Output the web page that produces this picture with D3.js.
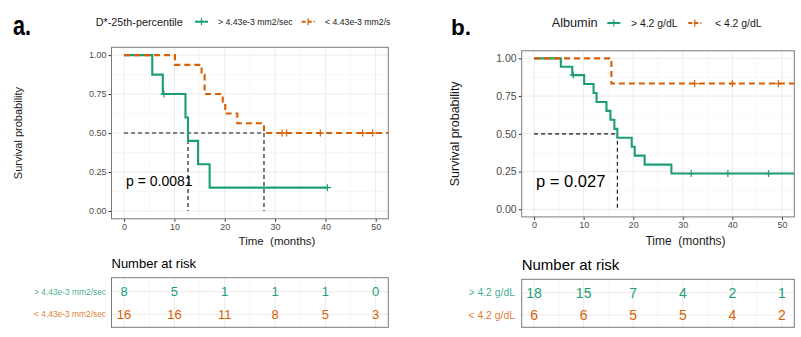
<!DOCTYPE html>
<html><head><meta charset="utf-8">
<script src="https://cdn.jsdelivr.net/npm/d3@7/dist/d3.min.js"></script>
<style>
html,body{margin:0;padding:0;background:#fff;}
svg text{font-family:"Liberation Sans",Arial,Helvetica,sans-serif;}
</style></head><body>
<svg id="chart" width="801" height="337"></svg>
<script>
// ---------------- DATA ----------------
const GREEN = "#1B9E77", ORANGE = "#D95F02";
const xTicks = [0, 10, 20, 30, 40, 50];
const yTicks = [0, 0.25, 0.5, 0.75, 1];
const yTickLabels = ["0.00", "0.25", "0.50", "0.75", "1.00"];

// Panel a: D*-25th-percentile
const aHiTimes = [0, 5.6, 7.7, 12.2, 12.7, 14.7, 17.0];
const aHiSurv  = [1, 0.875, 0.75, 0.6, 0.45, 0.30, 0.15];
const aHiEnd = 40.4;
const aHiCensor = [7.9, 40.4];
const aLoTimes = [0, 10.1, 15.4, 16.0, 19.6, 20.1, 22.5, 27.8];
const aLoSurv  = [1, 0.9375, 0.875, 0.75, 0.6875, 0.625, 0.5625, 0.5];
const aLoEnd = 52.5;
const aLoCensor = [31.4, 32.3, 39.0, 47.4, 49.4];
const aMedians = [12.7, 27.8];
const aRiskHi = [8, 5, 1, 1, 1, 0];
const aRiskLo = [16, 16, 11, 8, 5, 3];
const aLegendTitle = "D*-25th-percentile";
const aLabels = ["> 4.43e-3 mm2/sec", "< 4.43e-3 mm2/s"];
const aRowLabels = ["> 4.43e-3 mm2/sec", "< 4.43e-3 mm2/sec"];
const aP = "p = 0.0081";

// Panel b: Albumin
const bHiTimes = [0, 5.4, 7.7, 10.1, 12.0, 12.6, 14.6, 15.4, 16.2, 16.8, 19.7, 20.3, 22.3, 27.7];
const bHiSurv  = [1, 0.944, 0.889, 0.830, 0.771, 0.711, 0.652, 0.593, 0.533, 0.474, 0.415, 0.356, 0.296, 0.237];
const bHiEnd = 52.5;
const bHiCensor = [7.9, 31.7, 39.1, 47.3];
const bLoTimes = [0, 15.6];
const bLoSurv  = [1, 0.833];
const bLoEnd = 52.5;
const bLoCensor = [32.4, 40.0, 49.3];
const bMedians = [16.8];
const bRiskHi = [18, 15, 7, 4, 2, 1];
const bRiskLo = [6, 6, 5, 5, 4, 2];
const bLegendTitle = "Albumin";
const bLabels = ["> 4.2 g/dL", "< 4.2 g/dL"];
const bRowLabels = ["> 4.2 g/dL", "< 4.2 g/dL"];
const bP = "p = 0.027";

// ---------------- DRAW ----------------
const svg = d3.select("#chart");

function drawPanel(o) {
  const g = svg.append("g");
  const x = d3.scaleLinear().domain([-2.5, 52.5]).range([o.left, o.right]);
  const y = d3.scaleLinear().domain([-0.05, 1.05]).range([o.bottom, o.top]);

  // panel letter
  g.append("text").attr("x", 0).attr("y", 0)
    .attr("transform", `translate(${o.letterX},${o.letterY}) scale(${o.letterSX},1)`)
    .attr("font-size", o.letterSize).attr("font-weight", "bold").attr("fill", "#000").text(o.letter);

  // grid
  const minorX = d3.range(5, 50, 10);
  const minorY = [0.125, 0.375, 0.625, 0.875];
  g.selectAll(".mnx").data(minorX).join("line")
    .attr("x1", d => x(d)).attr("x2", d => x(d)).attr("y1", o.top).attr("y2", o.bottom)
    .attr("stroke", "#F4F4F4").attr("stroke-width", 0.6);
  g.selectAll(".mny").data(minorY).join("line")
    .attr("x1", o.left).attr("x2", o.right).attr("y1", d => y(d)).attr("y2", d => y(d))
    .attr("stroke", "#F4F4F4").attr("stroke-width", 0.6);
  g.selectAll(".mjx").data(xTicks).join("line")
    .attr("x1", d => x(d)).attr("x2", d => x(d)).attr("y1", o.top).attr("y2", o.bottom)
    .attr("stroke", "#EBEBEB").attr("stroke-width", 1);
  g.selectAll(".mjy").data(yTicks).join("line")
    .attr("x1", o.left).attr("x2", o.right).attr("y1", d => y(d)).attr("y2", d => y(d))
    .attr("stroke", "#EBEBEB").attr("stroke-width", 1);

  // axes
  const xa = g.append("g").attr("transform", `translate(0,${o.bottom})`)
    .call(d3.axisBottom(x).tickValues(xTicks).tickSize(3).tickPadding(2));
  xa.select(".domain").remove();
  xa.selectAll("line").attr("stroke", "#333");
  xa.selectAll("text").attr("fill", "#4D4D4D").attr("font-size", o.xTickSize)
    .attr("font-family", "Liberation Sans, Arial, sans-serif");
  const ya = g.append("g").attr("transform", `translate(${o.left},0)`)
    .call(d3.axisLeft(y).tickValues(yTicks).tickFormat((d, i) => yTickLabels[i]).tickSize(3).tickPadding(2));
  ya.select(".domain").remove();
  ya.selectAll("line").attr("stroke", "#333");
  ya.selectAll("text").attr("fill", "#4D4D4D").attr("font-size", o.yTickSize)
    .attr("font-family", "Liberation Sans, Arial, sans-serif");

  // titles
  g.append("text").attr("transform", `translate(${o.yTitleX},${(o.top + o.bottom) / 2}) rotate(-90)`)
    .attr("text-anchor", "middle").attr("dominant-baseline", "central")
    .attr("font-size", o.yTitleSize).attr("fill", "#1a1a1a").text("Survival probability");
  g.append("text").attr("x", o.xTitleX).attr("y", o.xTitleY)
    .attr("text-anchor", "middle").attr("dominant-baseline", "central")
    .attr("font-size", o.xTitleSize).attr("fill", "#1a1a1a").attr("xml:space", "preserve")
    .text("Time  (months)");

  // median lines
  const medG = g.append("g").attr("stroke", "#111").attr("stroke-width", 1.1)
    .attr("stroke-dasharray", "4,3").attr("fill", "none");
  const maxMed = d3.max(o.medians);
  medG.append("line").attr("x1", x(0)).attr("x2", x(maxMed)).attr("y1", y(0.5)).attr("y2", y(0.5));
  o.medians.forEach(m => medG.append("line").attr("x1", x(m)).attr("x2", x(m)).attr("y1", y(0.5)).attr("y2", y(0)));

  // curves
  const line = d3.line().x(d => x(d[0])).y(d => y(d[1])).curve(d3.curveStepAfter);
  function curve(times, surv, end, censor, color, dash) {
    const pts = times.map((t, i) => [t, surv[i]]);
    pts.push([end, surv[surv.length - 1]]);
    g.append("path").attr("d", line(pts)).attr("fill", "none").attr("stroke", color)
      .attr("stroke-width", 2.1).attr("stroke-dasharray", dash);
    const sAt = t => { let s = 1; times.forEach((tt, i) => { if (tt <= t) s = surv[i]; }); return s; };
    censor.forEach(c => {
      const cx = x(c), cy = y(sAt(c));
      g.append("line").attr("x1", cx).attr("x2", cx).attr("y1", cy - 3.5).attr("y2", cy + 3.5)
        .attr("stroke", color).attr("stroke-width", 1.2);
      g.append("line").attr("x1", cx - 3.5).attr("x2", cx + 3.5).attr("y1", cy).attr("y2", cy)
        .attr("stroke", color).attr("stroke-width", 1.2);
    });
  }
  curve(o.hiTimes, o.hiSurv, o.hiEnd, o.hiCensor, GREEN, null);
  curve(o.loTimes, o.loSurv, o.loEnd, o.loCensor, ORANGE, "6,4");

  // panel border
  g.append("rect").attr("x", o.left).attr("y", o.top).attr("width", o.right - o.left)
    .attr("height", o.bottom - o.top).attr("fill", "none").attr("stroke", "#7a7a7a").attr("stroke-width", 1);

  // p value
  g.append("text").attr("x", x(0.4)).attr("y", y(0.19)).attr("dominant-baseline", "central")
    .attr("font-size", o.pSize).attr("fill", "#000").text(o.p);

  // legend
  const lg = g.append("g");
  lg.append("text").attr("x", o.legTitleX).attr("y", o.legY).attr("dominant-baseline", "central")
    .attr("font-size", o.legTitleSize).attr("fill", "#1a1a1a").text(o.legTitle);
  [[GREEN, null], [ORANGE, "4,2"]].forEach((c, i) => {
    const kx = o.keyX[i];
    lg.append("line").attr("x1", kx).attr("x2", kx + 13).attr("y1", o.legY).attr("y2", o.legY)
      .attr("stroke", c[0]).attr("stroke-width", 2).attr("stroke-dasharray", c[1]);
    lg.append("line").attr("x1", kx + 6.5).attr("x2", kx + 6.5).attr("y1", o.legY - 3.5).attr("y2", o.legY + 3.5)
      .attr("stroke", c[0]).attr("stroke-width", 1.2);
    lg.append("text").attr("x", o.labX[i]).attr("y", o.legY).attr("dominant-baseline", "central")
      .attr("font-size", o.legLabSize).attr("fill", "#1a1a1a").text(o.labels[i]);
  });

  // risk table
  g.append("text").attr("x", o.left).attr("y", o.narY).attr("dominant-baseline", "central")
    .attr("font-size", o.narSize).attr("fill", "#000").text("Number at risk");
  const ry = d3.scalePoint().domain([0, 1]).range([o.rowY[0], o.rowY[1]]);
  g.selectAll(".rmx").data(minorX).join("line")
    .attr("x1", d => x(d)).attr("x2", d => x(d)).attr("y1", o.tTop).attr("y2", o.tBottom)
    .attr("stroke", "#F2F2F2").attr("stroke-width", 0.6);
  g.selectAll(".rjx").data(xTicks).join("line")
    .attr("x1", d => x(d)).attr("x2", d => x(d)).attr("y1", o.tTop).attr("y2", o.tBottom)
    .attr("stroke", "#EBEBEB").attr("stroke-width", 1);
  [0, 1].forEach(r => g.append("line").attr("x1", o.left).attr("x2", o.right)
    .attr("y1", ry(r)).attr("y2", ry(r)).attr("stroke", "#EBEBEB").attr("stroke-width", 1));
  g.append("rect").attr("x", o.left).attr("y", o.tTop).attr("width", o.right - o.left)
    .attr("height", o.tBottom - o.tTop).attr("fill", "none").attr("stroke", "#7a7a7a").attr("stroke-width", 1);
  [[o.riskHi, GREEN], [o.riskLo, ORANGE]].forEach((row, r) => {
    g.selectAll(null).data(row[0]).join("text")
      .attr("x", (d, i) => x(xTicks[i])).attr("y", ry(r)).attr("text-anchor", "middle")
      .attr("dominant-baseline", "central").attr("font-size", o.digitSize).attr("fill", row[1])
      .text(d => d);
    g.append("text").attr("x", o.rowLabX).attr("y", ry(r)).attr("text-anchor", "end")
      .attr("dominant-baseline", "central").attr("font-size", o.rowLabSize)
      .attr("fill", row[1]).attr("fill-opacity", 0.85).text(o.rowLabels[r]);
  });
}

drawPanel({
  letter: "a.", letterX: 13, letterY: 35, letterSize: 27, letterSX: 0.8,
  left: 111.5, right: 388.3, top: 47.3, bottom: 218.8,
  xTickSize: 9, yTickSize: 9, yTitleX: 18, yTitleSize: 11,
  xTitleX: 277, xTitleY: 241, xTitleSize: 11.5,
  medians: aMedians,
  hiTimes: aHiTimes, hiSurv: aHiSurv, hiEnd: aHiEnd, hiCensor: aHiCensor,
  loTimes: aLoTimes, loSurv: aLoSurv, loEnd: aLoEnd, loCensor: aLoCensor,
  p: aP, pSize: 14,
  legTitle: aLegendTitle, legTitleX: 95.7, legY: 21.7, legTitleSize: 10.8,
  keyX: [195, 301.7], labX: [218, 325], labels: aLabels, legLabSize: 8.7,
  narY: 263.3, narSize: 13, tTop: 277.7, tBottom: 327.3, rowY: [291.7, 314.3],
  riskHi: aRiskHi, riskLo: aRiskLo, digitSize: 13,
  rowLabX: 106, rowLabSize: 8.4, rowLabels: aRowLabels
});

drawPanel({
  letter: "b.", letterX: 451, letterY: 35, letterSize: 22.5, letterSX: 1,
  left: 521.7, right: 794.3, top: 50.8, bottom: 216.9,
  xTickSize: 9, yTickSize: 10.5, yTitleX: 455, yTitleSize: 12.5,
  xTitleX: 685.5, xTitleY: 240.5, xTitleSize: 12,
  medians: bMedians,
  hiTimes: bHiTimes, hiSurv: bHiSurv, hiEnd: bHiEnd, hiCensor: bHiCensor,
  loTimes: bLoTimes, loSurv: bLoSurv, loEnd: bLoEnd, loCensor: bLoCensor,
  p: bP, pSize: 16.5,
  legTitle: bLegendTitle, legTitleX: 551.7, legY: 23, legTitleSize: 12.7,
  keyX: [607.3, 688.3], labX: [631, 715], labels: bLabels, legLabSize: 10.4,
  narY: 264.3, narSize: 15, tTop: 279.3, tBottom: 327.3, rowY: [292.7, 315],
  riskHi: bRiskHi, riskLo: bRiskLo, digitSize: 14,
  rowLabX: 515, rowLabSize: 10.4, rowLabels: bRowLabels
});
</script>
</body></html>
